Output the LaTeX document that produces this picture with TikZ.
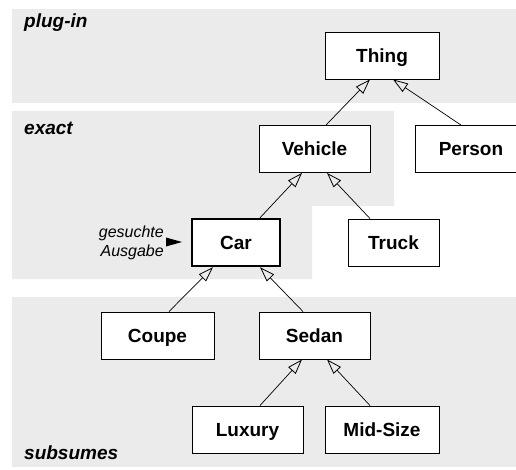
\documentclass[tikz,border=0pt]{standalone}
\usepackage{fontspec}
\setmainfont{Liberation Sans}
\usetikzlibrary{arrows.meta}
\definecolor{zone}{HTML}{EBEBEB}
\tikzset{
  cls/.style={draw=black, fill=white, line width=0.9pt, minimum height=47pt,
    inner sep=0pt, text height=13.6pt, text depth=0pt,
    font=\fontsize{19}{20}\selectfont\bfseries},
  focus/.style={cls, line width=2.4pt},
  isa/.style={line width=0.7pt, -{Triangle[open, length=15pt, width=10pt, line width=0.8pt]}},
  zonelabel/.style={anchor=west, inner sep=0pt, font=\fontsize{19}{20}\selectfont\bfseries\itshape},
}
\begin{document}
\begin{tikzpicture}[x=1pt, y=-1pt]
  \useasboundingbox (0,0) rectangle (516,469);
  % matching zones
  \fill[zone] (12,9) rectangle (516,103);
  \fill[zone] (12,111) -- (394,111) -- (394,206) -- (312,206) -- (312,279) -- (12,279) -- cycle;
  \fill[zone] (12,297) rectangle (516,467);
  \node[zonelabel] (lplug) at (24,23) {plug-in};
  \node[zonelabel] (lexact) at (24,128) {exact};
  \node[zonelabel] (lsub) at (24,453) {subsumes};

  % class hierarchy
  \node[cls, minimum width=114pt] (thing)   at (382,55.5)  {Thing};
  \node[cls, minimum width=111pt] (vehicle) at (314.5,149) {Vehicle};
  \node[cls, minimum width=112pt] (person)  at (471,149)   {Person};
  \node[focus, minimum width=88pt] (car)    at (236,242.5) {Car};
  \node[cls, minimum width=91pt] (truck)    at (393.5,242.5) {Truck};
  \node[cls, minimum width=113pt] (coupe)   at (157.5,335.5) {Coupe};
  \node[cls, minimum width=111pt] (sedan)   at (314.5,335.5) {Sedan};
  \node[cls, minimum width=111pt] (luxury)  at (247.5,429.5) {Luxury};
  \node[cls, minimum width=114pt] (midsize) at (382,429.5) {Mid-Size};

  \draw[isa] (vehicle.north -| 326,0) -- (thing.south -| 370,0);
  \draw[isa] (person.north -| 461,0) -- (thing.south -| 393,0);
  \draw[isa] (car.north -| 260,0) -- (vehicle.south -| 302,0);
  \draw[isa] (truck.north -| 370,0) -- (vehicle.south -| 327,0);
  \draw[isa] (coupe.north -| 169,0) -- (car.south -| 213,0);
  \draw[isa] (sedan.north -| 303,0) -- (car.south -| 260,0);
  \draw[isa] (luxury.north -| 260,0) -- (sedan.south -| 302,0);
  \draw[isa] (midsize.north -| 370,0) -- (sedan.south -| 327,0);

  % marker for the requested output
  \node[anchor=east, align=right, inner sep=0pt, font=\fontsize{16}{19}\selectfont\itshape] (goal) at (164,243) {gesuchte\\Ausgabe};
  \coordinate (goaltip) at (182,242);
  \fill (goaltip) -- ++(-16,-4.5) -- ++(0,9) -- cycle;
\end{tikzpicture}
\end{document}
